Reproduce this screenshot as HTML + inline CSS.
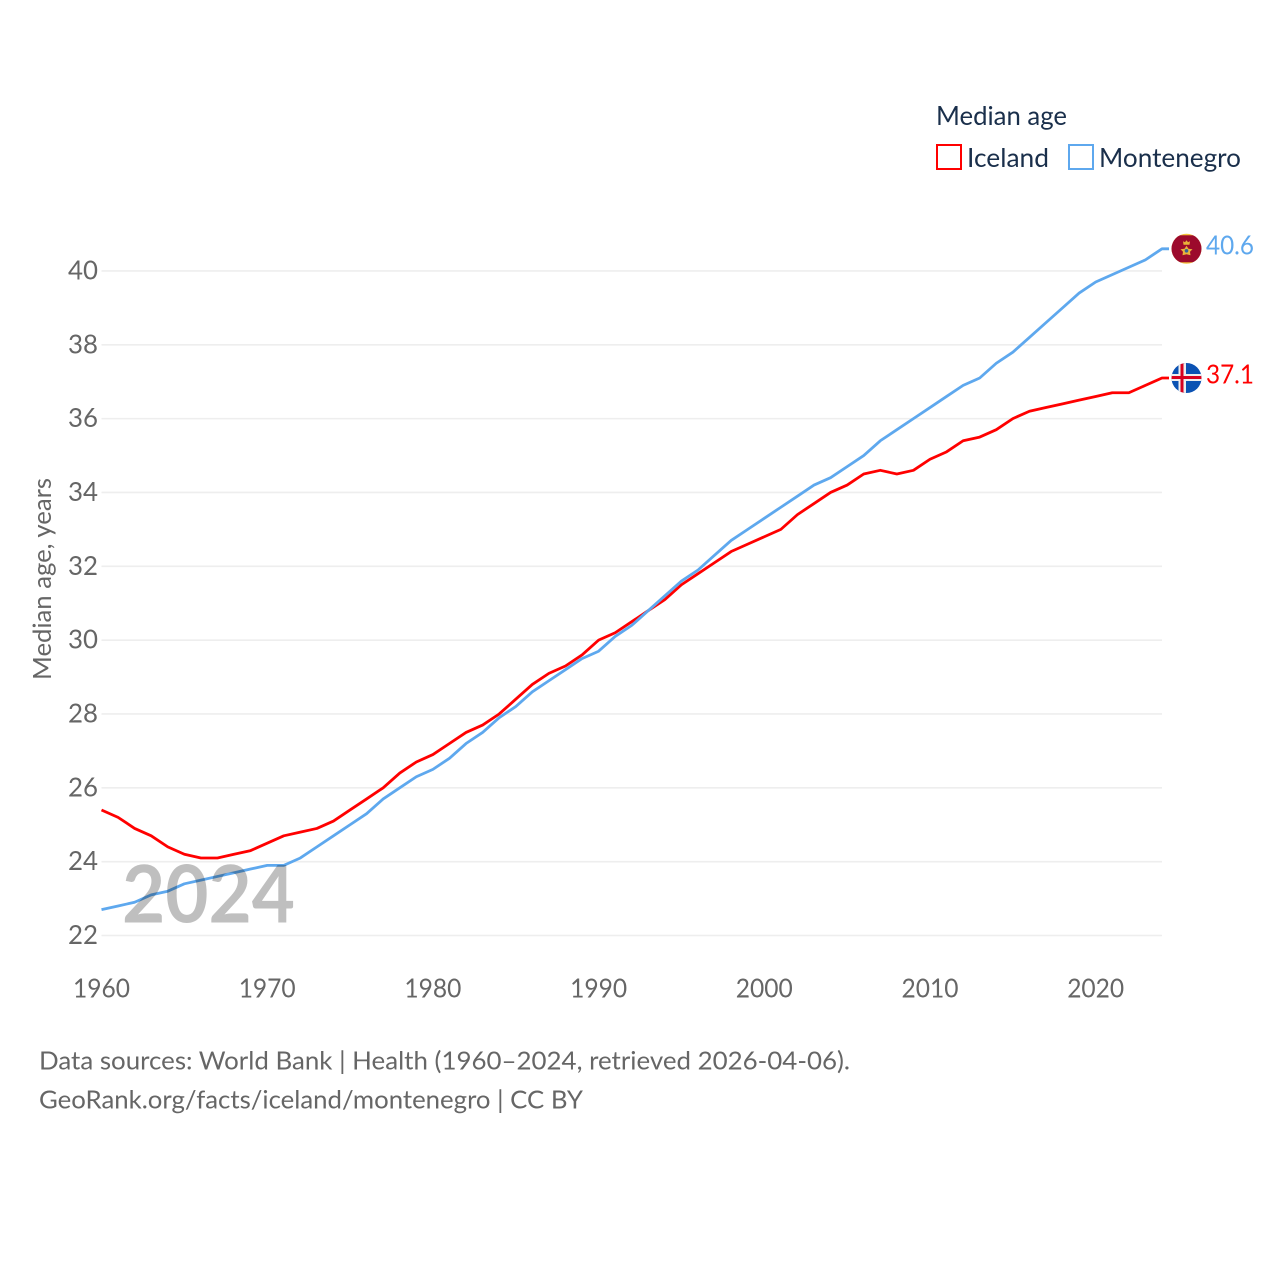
<!DOCTYPE html>
<html lang="en">
<head>
<meta charset="utf-8">
<title>Median age: Iceland and Montenegro</title>
<style>
html,body{margin:0;padding:0;background:#fff;}
svg{display:block;}
text{font-family:"Lato","Carlito","Liberation Sans",sans-serif;}
</style>
</head>
<body>
<svg id="chart" xmlns="http://www.w3.org/2000/svg" width="1280" height="1280" viewBox="0 0 1280 1280">
  <rect width="1280" height="1280" fill="#fff"/>
  <defs>
    <clipPath id="flag-clip"><circle cx="0" cy="0" r="15"/></clipPath>
  </defs>

  <g id="grid"></g>
  <g id="y-ticks"></g>
  <g id="x-ticks"></g>

  <text transform="translate(51 680) rotate(-90)" font-size="25" fill="#666" textLength="202" lengthAdjust="spacingAndGlyphs">Median age, years</text>

  <g id="series"></g>

  <text x="122" y="922.5" font-size="80" font-weight="700" fill="#000" fill-opacity="0.25" textLength="173" lengthAdjust="spacingAndGlyphs">2024</text>

  <g id="flag-montenegro">
    <g clip-path="url(#flag-clip)">
      <rect x="-16" y="-16" width="32" height="32" fill="#f4c53d"/>
      <rect x="-16" y="-13.5" width="32" height="27" fill="#9c0a2c"/>
      <path d="M0 -3 L2 0 L6 0.5 L3.5 3 L4 6.5 L0 5.5 L-4 6.5 L-3.5 3 L-6 0.5 L-2 0 Z" fill="#e8b33a"/>
      <circle cx="0" cy="2" r="1.8" fill="#34639c"/>
      <path d="M-3 -4 L-3.5 -7.5 L-1.5 -6.5 L0 -8.5 L1.5 -6.5 L3.5 -7.5 L3 -4 Z" fill="#e8b33a"/>
    </g>
  </g>
  <g id="flag-iceland">
    <g clip-path="url(#flag-clip)">
      <rect x="-16" y="-16" width="32" height="32" fill="#0b52b3"/>
      <rect x="-16" y="-4" width="32" height="7" fill="#eee"/>
      <rect x="-8" y="-16" width="7.5" height="32" fill="#eee"/>
      <rect x="-16" y="-2" width="32" height="3" fill="#d8001f"/>
      <rect x="-6" y="-16" width="3" height="32" fill="#d8001f"/>
    </g>
  </g>
  <text id="value-montenegro" font-size="26" fill="#5ea8ee" textLength="48" lengthAdjust="spacingAndGlyphs"></text>
  <text id="value-iceland" font-size="26" fill="#f00" textLength="48" lengthAdjust="spacingAndGlyphs"></text>

  <g>
    <text x="936" y="125" font-size="26" fill="#1a2f4b" textLength="131" lengthAdjust="spacingAndGlyphs">Median age</text>
    <rect x="937" y="145" width="24" height="24" fill="#fff" stroke="#f00" stroke-width="2"/>
    <text x="967" y="167" font-size="26" fill="#1a2f4b" textLength="82" lengthAdjust="spacingAndGlyphs">Iceland</text>
    <rect x="1069" y="145" width="24" height="24" fill="#fff" stroke="#5ea8ee" stroke-width="2"/>
    <text x="1099" y="167" font-size="26" fill="#1a2f4b" textLength="142" lengthAdjust="spacingAndGlyphs">Montenegro</text>
  </g>

  <g>
    <text x="39" y="1069.5" font-size="25.5" fill="#666" textLength="811" lengthAdjust="spacingAndGlyphs">Data sources: World Bank | Health (1960–2024, retrieved 2026-04-06).</text>
    <text x="39" y="1108.5" font-size="25.5" fill="#666" textLength="544" lengthAdjust="spacingAndGlyphs">GeoRank.org/facts/iceland/montenegro | CC BY</text>
  </g>
</svg>
<script>
const years = [1960,1961,1962,1963,1964,1965,1966,1967,1968,1969,1970,1971,1972,1973,1974,1975,1976,1977,1978,1979,1980,1981,1982,1983,1984,1985,1986,1987,1988,1989,1990,1991,1992,1993,1994,1995,1996,1997,1998,1999,2000,2001,2002,2003,2004,2005,2006,2007,2008,2009,2010,2011,2012,2013,2014,2015,2016,2017,2018,2019,2020,2021,2022,2023,2024];
const iceland = [25.4,25.2,24.9,24.7,24.4,24.2,24.1,24.1,24.2,24.3,24.5,24.7,24.8,24.9,25.1,25.4,25.7,26.0,26.4,26.7,26.9,27.2,27.5,27.7,28.0,28.4,28.8,29.1,29.3,29.6,30.0,30.2,30.5,30.8,31.1,31.5,31.8,32.1,32.4,32.6,32.8,33.0,33.4,33.7,34.0,34.2,34.5,34.6,34.5,34.6,34.9,35.1,35.4,35.5,35.7,36.0,36.2,36.3,36.4,36.5,36.6,36.7,36.7,36.9,37.1];
const montenegro = [22.7,22.8,22.9,23.1,23.2,23.4,23.5,23.6,23.7,23.8,23.9,23.9,24.1,24.4,24.7,25.0,25.3,25.7,26.0,26.3,26.5,26.8,27.2,27.5,27.9,28.2,28.6,28.9,29.2,29.5,29.7,30.1,30.4,30.8,31.2,31.6,31.9,32.3,32.7,33.0,33.3,33.6,33.9,34.2,34.4,34.7,35.0,35.4,35.7,36.0,36.3,36.6,36.9,37.1,37.5,37.8,38.2,38.6,39.0,39.4,39.7,39.9,40.1,40.3,40.6];
const yTicks = [22,24,26,28,30,32,34,36,38,40];
const xTicks = [1960,1970,1980,1990,2000,2010,2020];

const NS = 'http://www.w3.org/2000/svg';
const xScale = function (year) { return 101.5 + (year - 1960) * 16.57; };
const yScale = function (v) { return 935.5 - (v - 22) * 36.92; };
const plotRight = xScale(2024);

function make(tag, parent, attrs, text) {
  const el = document.createElementNS(NS, tag);
  for (const k in attrs) el.setAttribute(k, attrs[k]);
  if (text !== undefined) el.textContent = text;
  parent.appendChild(el);
  return el;
}

const grid = document.getElementById('grid');
const yGroup = document.getElementById('y-ticks');
yTicks.forEach(function (t) {
  const line = make('line', grid, {x1: 101.5, x2: plotRight, y1: yScale(t), y2: yScale(t), stroke: '#eeeeee', 'stroke-width': 1.6});
  
  
  const label = make('text', yGroup, {x: 68, y: yScale(t) + 8.5, 'font-size': 26, fill: '#666', textLength: 30, lengthAdjust: 'spacingAndGlyphs'}, String(t));
  
  
});

const xGroup = document.getElementById('x-ticks');
xTicks.forEach(function (t) {
  const label = make('text', xGroup, {x: xScale(t) - 28.5, y: 997.5, 'font-size': 26, fill: '#666', textLength: 57, lengthAdjust: 'spacingAndGlyphs'}, String(t));
  
  
});

function linePath(values) {
  return values.map(function (v, i) {
    return (i ? 'L' : 'M') + xScale(years[i]).toFixed(2) + ' ' + yScale(v).toFixed(2);
  }).join(' ') + ' H 1169';
}

const series = document.getElementById('series');
const icelandLine = make('path', series, {d: linePath(iceland), fill: 'none', stroke: '#ff0000', 'stroke-width': 2.8, 'stroke-linejoin': 'round'});


const montenegroLine = make('path', series, {d: linePath(montenegro), fill: 'none', stroke: '#5ea8ee', 'stroke-width': 2.8, 'stroke-linejoin': 'round'});



const lastIceland = iceland[iceland.length - 1];
const lastMontenegro = montenegro[montenegro.length - 1];
document.getElementById('flag-iceland').setAttribute('transform', 'translate(1186.5 ' + yScale(lastIceland) + ')');
document.getElementById('flag-montenegro').setAttribute('transform', 'translate(1186.5 ' + yScale(lastMontenegro) + ')');
const valueIceland = document.getElementById('value-iceland');
valueIceland.textContent = lastIceland.toFixed(1);
valueIceland.setAttribute('x', 1206);
valueIceland.setAttribute('y', yScale(lastIceland) + 5.5);
const valueMontenegro = document.getElementById('value-montenegro');
valueMontenegro.textContent = lastMontenegro.toFixed(1);
valueMontenegro.setAttribute('x', 1206);
valueMontenegro.setAttribute('y', yScale(lastMontenegro) + 5.5);
</script>
</body>
</html>
